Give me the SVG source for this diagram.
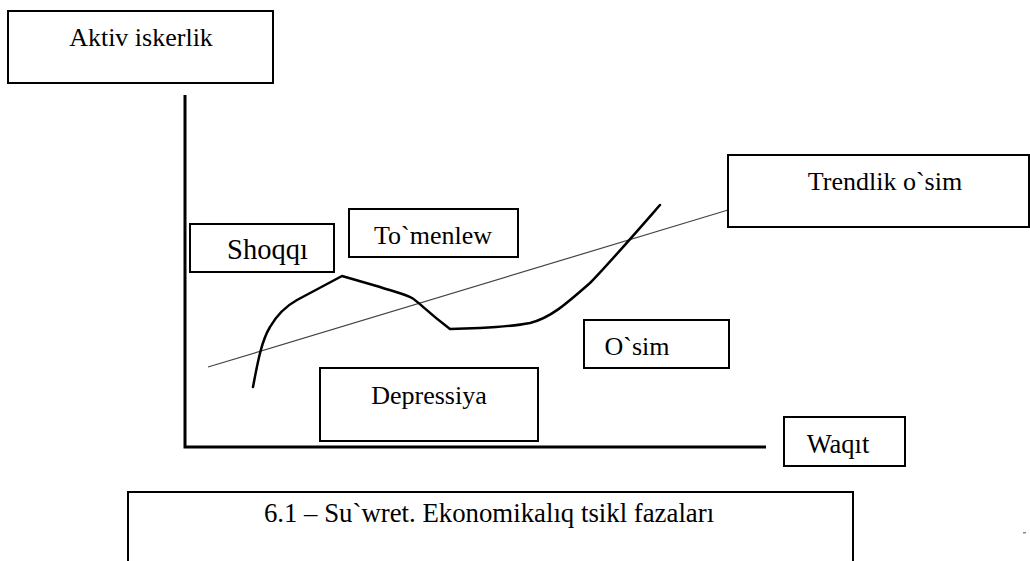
<svg xmlns="http://www.w3.org/2000/svg" width="1030" height="561" viewBox="0 0 1030 561">
<style>
.box{fill:#fff;stroke:#000;stroke-width:2}
.axis{stroke:#000;stroke-width:3;fill:none}
.trend{stroke:#444;stroke-width:1.2;fill:none}
.curve{stroke:#000;stroke-width:2.5;fill:none;stroke-linejoin:round;stroke-linecap:round}
</style>
<rect width="1030" height="561" fill="#fff"/>
<g id="connectors">
<path class="axis" d="M185,95 V447 H766"/>
<line class="trend" x1="208" y1="367" x2="728" y2="210"/>
<path class="curve" d="M253,387 C258,360 262,340 270,327 C278,313 288,305 297,300 L342,276 L380,287 C395,292 405,294 412,298 C420,303 425,310 450,329 L480,328 C500,327 515,326 530,323 C550,318 565,305 590,283 C605,268 625,245 660,205"/>
<rect x="1023" y="532" width="3" height="1.5" fill="#888"/>
</g>
<g font-family="'Liberation Serif', 'Times New Roman', serif" font-size="26" fill="#000" text-anchor="middle">
<g id="aktiv">
<rect class="box" x="8" y="11" width="265" height="72"/>
<text x="141" y="46">Aktiv iskerlik</text>
</g>
<g id="shoqqi">
<rect class="box" x="190" y="224" width="144" height="48"/>
<text x="267.5" y="259" font-size="28.5">Shoqqı</text>
</g>
<g id="tomenlew">
<rect class="box" x="349" y="209" width="169" height="48"/>
<text x="433" y="244">To`menlew</text>
</g>
<g id="trendlik">
<rect class="box" x="728" y="155" width="301" height="72"/>
<text x="885" y="190">Trendlik o`sim</text>
</g>
<g id="osim">
<rect class="box" x="584" y="320" width="145" height="48"/>
<text x="637" y="355">O`sim</text>
</g>
<g id="depressiya">
<rect class="box" x="320" y="368" width="218" height="73"/>
<text x="429" y="404">Depressiya</text>
</g>
<g id="waqit">
<rect class="box" x="784" y="417" width="121" height="49"/>
<text x="838" y="453" font-size="26.5">Waqıt</text>
</g>
<g id="caption">
<rect class="box" x="128" y="492" width="725" height="80"/>
<text x="489" y="522" font-size="26.8">6.1 – Su`wret. Ekonomikalıq tsikl fazaları</text>
</g>
</g>
</svg>
